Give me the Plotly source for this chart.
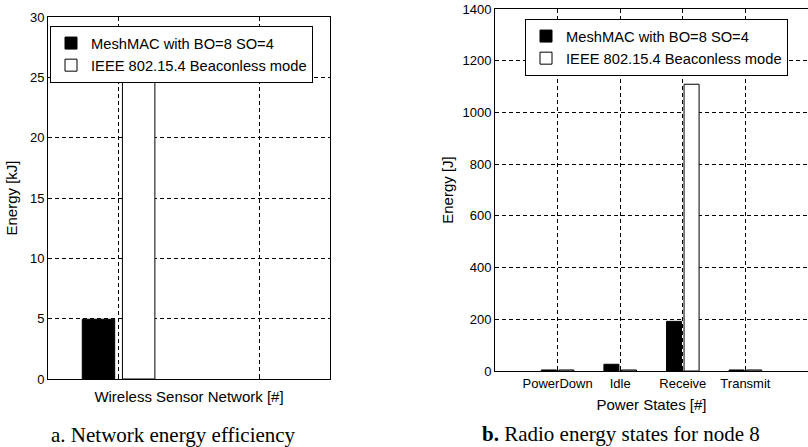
import plotly.graph_objects as go

# ---- data ----
total_x = [1]
mesh_total = [4.95]          # kJ
ieee_total = [25.4]          # kJ

states = ["PowerDown", "Idle", "Receive", "Transmit"]
mesh_states = [4, 26, 192, 4]        # J
ieee_states = [4, 4, 1109, 4]        # J

left_yticks = [0, 5, 10, 15, 20, 25, 30]
right_yticks = [0, 200, 400, 600, 800, 1000, 1200, 1400]

name_mesh = "MeshMAC with BO=8 SO=4"
name_ieee = "IEEE 802.15.4 Beaconless mode"

W, H = 808, 447
FONT = "Liberation Sans, Arial, sans-serif"
SERIF = "Liberation Serif, Times New Roman, serif"

fig = go.Figure()

# left panel
fig.add_trace(go.Bar(x=total_x, y=mesh_total, name=name_mesh, xaxis="x", yaxis="y",
                     marker=dict(color="black", line=dict(color="black", width=1)),
                     width=0.23, offset=-0.257, legend="legend"))
fig.add_trace(go.Bar(x=total_x, y=ieee_total, name=name_ieee, xaxis="x", yaxis="y",
                     marker=dict(color="white", line=dict(color="black", width=1)),
                     width=0.23, offset=0.028, legend="legend"))
# right panel
fig.add_trace(go.Bar(x=states, y=mesh_states, name=name_mesh, xaxis="x2", yaxis="y2",
                     marker=dict(color="black", line=dict(color="black", width=1)),
                     width=0.24, offset=-0.26, legend="legend2"))
fig.add_trace(go.Bar(x=states, y=ieee_states, name=name_ieee, xaxis="x2", yaxis="y2",
                     marker=dict(color="white", line=dict(color="black", width=1)),
                     width=0.24, offset=0.02, legend="legend2"))

grid = dict(showgrid=True, gridcolor="black", gridwidth=1, griddash="4px,3px",
            showline=True, linecolor="black", linewidth=1, zeroline=False,
            ticks="inside", ticklen=3, tickcolor="black", automargin=False,
            tickfont=dict(family=FONT, size=13, color="black"))

def px_x(p):
    return p / W

def px_y(p):
    return 1 - p / H

leg_font = dict(family=FONT, size=14.7, color="black")

fig.update_layout(
    width=W, height=H, margin=dict(l=0, r=0, t=0, b=0, autoexpand=False),
    paper_bgcolor="white", plot_bgcolor="white",
    barmode="overlay",
    font=dict(family=FONT, size=13, color="black"),
    xaxis=dict(domain=[px_x(48), px_x(330)], anchor="y", range=[0.5, 2.5],
               tickvals=[1, 2], showticklabels=False, mirror=True,
               title=dict(text="Wireless Sensor Network [#]", standoff=12,
                          font=dict(family=FONT, size=15)),
               **grid),
    yaxis=dict(domain=[px_y(379), px_y(17)], anchor="x", range=[0, 30],
               tickvals=left_yticks, mirror=True,
               title=dict(text="Energy [kJ]", standoff=8,
                          font=dict(family=FONT, size=15)),
               **grid),
    xaxis2=dict(domain=[px_x(495), 1.0], anchor="y2", range=[-1, 4],
                mirror=True,
                title=dict(text="Power States [#]", standoff=9,
                           font=dict(family=FONT, size=15)),
                **grid),
    yaxis2=dict(domain=[px_y(371), px_y(9)], anchor="x2", range=[0, 1400],
                tickvals=right_yticks, mirror=False,
                title=dict(text="Energy [J]", standoff=5,
                           font=dict(family=FONT, size=15)),
                **grid),
    legend=dict(x=px_x(50), y=px_y(26), xanchor="left", yanchor="top",
                bgcolor="white", bordercolor="black", borderwidth=1,
                font=leg_font, tracegroupgap=0, itemwidth=30),
    legend2=dict(x=px_x(525), y=px_y(19), xanchor="left", yanchor="top",
                 bgcolor="white", bordercolor="black", borderwidth=1,
                 font=leg_font, tracegroupgap=0, itemwidth=30),
    showlegend=True,
    annotations=[
        dict(text="a. Network energy efficiency", xref="paper", yref="paper",
             x=px_x(173), y=px_y(435), xanchor="center", yanchor="middle",
             showarrow=False, font=dict(family=SERIF, size=21, color="black")),
        dict(text="<b>b.</b> Radio energy states for node 8", xref="paper", yref="paper",
             x=px_x(621), y=px_y(434), xanchor="center", yanchor="middle",
             showarrow=False, font=dict(family=SERIF, size=21, color="black")),
    ],
)

fig.write_html("out.html", config={"displayModeBar": False},
               post_script="document.body.style.margin='0';document.body.style.overflow='hidden';")
